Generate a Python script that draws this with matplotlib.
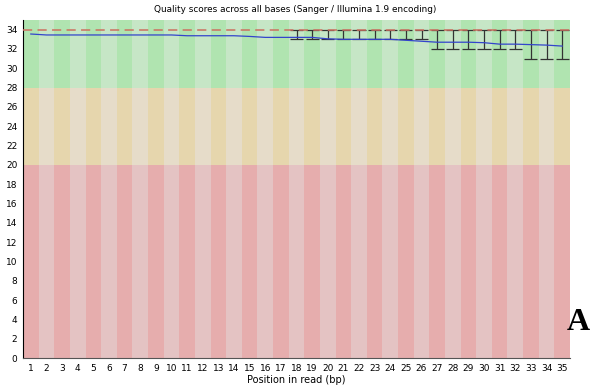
import numpy as np
import matplotlib
matplotlib.use("Agg")
from matplotlib import pyplot as plt

# ---------------- data ----------------
positions = list(range(1, 36))
mean_q = [33.55, 33.45, 33.45, 33.45, 33.45, 33.45, 33.45, 33.45, 33.45, 33.45,
          33.37, 33.37, 33.37, 33.37, 33.3, 33.2, 33.2, 33.2, 33.2, 33.05,
          33.0, 33.0, 33.0, 33.0, 32.9, 32.8, 32.7, 32.7, 32.7, 32.65,
          32.5, 32.5, 32.45, 32.4, 32.3]
median_q = [34] * 35
upper_q = [34] * 35
lower_whisker = [34] * 17 + [33] * 9 + [32] * 6 + [31] * 3

title = "Quality scores across all bases (Sanger / Illumina 1.9 encoding)"
xlabel = "Position in read (bp)"
# ------------------------------------------------------------

fig = plt.figure(figsize=(5.91, 3.88), dpi=100)
ax = fig.add_axes([23 / 591, 30 / 388, 547 / 591, 338 / 388])

ymax = 35
zones = [(0, 20, "#e6adad", "#e4c3c3"),
         (20, 28, "#e6d6ad", "#e6dcc9"),
         (28, ymax, "#b0e4b0", "#c6e6c6")]
for i, p in enumerate(positions):
    for lo, hi, dark, light in zones:
        ax.fill_between([p - 0.5, p + 0.5], lo, hi,
                        color=dark if i % 2 == 0 else light, lw=0, zorder=0)

# whiskers
for p, lw_, up in zip(positions, lower_whisker, upper_q):
    if lw_ < up:
        ax.vlines(p, lw_, up, color="#333333", lw=0.9, zorder=2)
        ax.hlines([lw_, up], p - 0.42, p + 0.42, color="#333333", lw=0.9, zorder=2)

# medians
ax.plot([positions[0] - 0.5] + positions[1:-1] + [positions[-1] + 0.5], median_q,
        color="#cc7060", lw=1.1, ls=(0, (6, 3.5)), zorder=3)

# mean line
ax.plot(positions, mean_q, color="#3344cc", lw=0.9, zorder=4)

ax.set_xlim(0.5, 35.5)
ax.set_ylim(0, ymax)
ax.set_xticks(positions)
ax.set_xticklabels([str(p) for p in positions], fontsize=6.5)
ax.set_yticks(range(0, 35, 2))
ax.set_yticklabels([str(v) for v in range(0, 35, 2)], fontsize=6.5)
ax.tick_params(length=0, pad=4)
ax.spines["top"].set_visible(False)
ax.spines["right"].set_visible(False)
ax.spines["left"].set_color("black")
ax.spines["bottom"].set_color("#555555")
ax.set_xlabel(xlabel, fontsize=7, labelpad=2)
fig.text(0.5, 0.975, title, ha="center", va="center", fontsize=6.4)

fig.text(590 / 591, 1 - 330 / 388, "A", ha="right", va="baseline",
         fontsize=23, fontweight="bold", family="Liberation Serif")

fig.savefig("out.png", dpi=100)
